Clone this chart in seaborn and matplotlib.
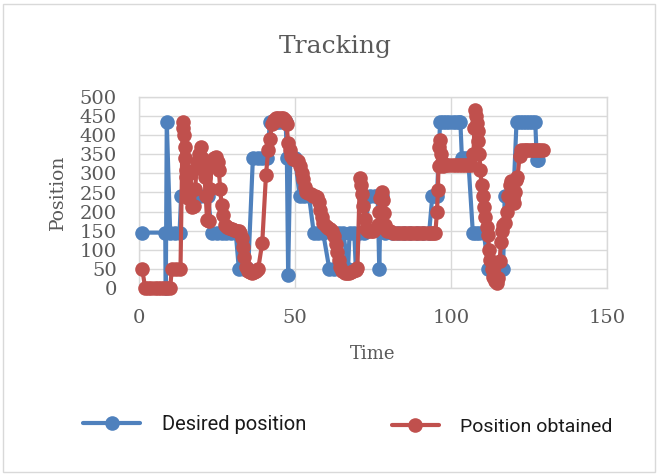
import numpy as np
import pandas as pd
import matplotlib
matplotlib.use("Agg")
import matplotlib.pyplot as plt
from matplotlib.patches import Rectangle
import seaborn as sns

# ---- data -----------------------------------------------------------------
time_desired = [1, 8.4, 8.6, 8.9, 10, 11.5, 13, 13.5, 15, 16.5, 18, 19.5, 21, 22,
                23.5, 25, 26.5, 28, 29.5, 31, 32, 33.5, 35, 36.5, 38, 39.5, 41,
                42, 43, 44, 45, 46, 47, 47.4, 47.8, 48.5, 50, 51.5, 53, 54.5,
                56, 57.5, 59, 61, 62.5, 64, 65.5, 67, 67.5, 69, 69.5, 70.5, 72,
                74, 75.5, 76.5, 77, 77.5, 78, 79, 81, 83, 85, 87, 89, 91, 93,
                94, 95, 95.5, 96.5, 97.5, 98.5, 99.5, 100.5, 101.5, 102.5, 103,
                103.5, 104.5, 105.5, 107, 108, 109, 110.5, 112, 113.5, 115,
                116.7, 117.2, 118.5, 120, 121, 122, 123, 124, 125, 126, 127,
                127.5, 128]
desired = [145, 145, 0, 435, 145, 145, 145, 240, 240, 240, 240, 240, 240, 240,
           145, 145, 145, 145, 145, 145, 50, 50, 50, 340, 340, 340, 340,
           435, 435, 435, 435, 435, 435, 340, 35, 340, 340, 240, 240, 240,
           145, 145, 145, 50, 50, 145, 145, 50, 145, 145, 50, 145, 145,
           240, 240, 240, 50, 240, 240, 145, 145, 145, 145, 145, 145, 145, 145,
           240, 240, 240, 435, 435, 435, 435, 435, 435, 435, 435,
           340, 340, 340, 145, 145, 145, 145, 50, 50, 50,
           50, 240, 240, 240, 435, 435, 435, 435, 435, 435, 435,
           335, 335]

time_obtained = [1, 2, 3, 4, 5, 6, 7, 8, 9, 10, 10.5, 12, 13.3,
                 14, 14.2, 14.4, 14.6, 14.8, 15, 15.2, 15.4, 15.6, 16, 16.5,
                 17, 17.5, 18, 18.6, 19.2, 19.8, 20.2, 20.6, 21, 21.4, 21.8,
                 22.3, 22.8, 23.3, 24, 24.6, 25.2, 25.6, 26, 26.5, 27, 27.6,
                 28.3, 29, 29.8, 30.5, 31.3, 32, 32.5, 33, 33.4, 33.8, 34.2,
                 34.8, 35.5, 36.3, 37, 37.6, 38.2, 39.5, 40.7, 41.4, 42, 42.6,
                 43.2, 43.8, 44.4, 45, 45.6, 46.2, 46.8, 47.3, 47.8, 48.3,
                 48.8, 49.5, 50.3, 51, 51.6, 52.1, 52.6, 53.1, 53.6, 54.3, 55,
                 55.7, 56.4, 57, 57.6, 58.1, 58.6, 59.1, 59.8, 60.5, 61.2,
                 61.9, 62.5, 63, 63.5, 64, 64.5, 65.2, 65.9, 66.6, 67.3, 68,
                 68.7, 69.4, 70, 70.8, 71.1, 71.4, 71.8, 72.3, 72.8, 73.5,
                 74.3, 75, 75.8, 76.5, 77, 77.4, 77.8, 78.2, 78.6, 79, 79.6,
                 80.5, 81.5, 82.5, 83.5, 84.5, 85.5, 86.5, 87.5, 88.5, 89.5,
                 90.5, 91.5, 92.5, 93.5, 94.3, 95, 95.5, 95.8, 96, 96.2, 96.4,
                 96.7, 97, 97.5, 98.5, 99.5, 100.5, 101.5, 102.5, 103.5, 104.5,
                 105.5, 106.5, 107.2, 107.5, 107.7, 107.9, 108.2, 108.5, 108.8,
                 109.1, 109.4, 109.8, 110.2, 110.5, 111, 111.4, 111.8, 112.2,
                 112.5, 113, 113.6, 114.2, 114.7, 115.2, 115.6, 116, 116.4,
                 116.8, 117.3, 117.8, 118.3, 118.8, 119.2, 119.5, 119.8, 120.1,
                 120.5, 120.8, 121.3, 122, 122.5, 123.3, 124, 124.7, 125.5,
                 126.2, 127, 127.8, 128.6, 129.4]
obtained = [50, 0, 0, 0, 0, 0, 0, 0, 0, 0, 50, 50, 50,
            435, 420, 400, 370, 340, 310, 290, 260, 235, 250, 300,
            212, 215, 260, 330, 350, 370, 340, 310, 290, 240, 178,
            175, 260, 330, 340, 343, 330, 310, 260, 217, 190, 165,
            160, 158, 155, 152, 150, 150, 145, 130, 107, 80, 55,
            45, 42, 40, 42, 45, 50, 118, 296, 360, 390, 430,
            440, 445, 445, 440, 445, 445, 440, 430, 380, 360,
            345, 338, 335, 332, 320, 300, 285, 265, 250, 248, 245,
            242, 240, 238, 225, 205, 185, 170, 162, 158, 155,
            150, 135, 115, 95, 73, 55, 45, 40, 40, 40, 42,
            45, 48, 52, 288, 270, 245, 215, 180, 155, 148,
            148, 150, 155, 165, 200, 235, 250, 230, 196, 165, 150,
            148, 145, 145, 145, 145, 145, 145, 145, 145, 145,
            145, 145, 145, 145, 145, 145, 200, 257, 320, 370, 387,
            350, 330, 320, 322, 322, 322, 322, 322, 322, 322,
            322, 322, 350, 420, 466, 450, 432, 410, 385,
            350, 310, 270, 240, 212, 185, 160, 140, 100,
            73, 50, 30, 18, 13, 25, 70, 120, 150,
            165, 170, 200, 240, 270, 280, 260, 235, 222,
            250, 283, 290, 345, 360, 362, 360, 362, 360,
            362, 360, 362, 360, 360]

x_ticks = [0, 50, 100, 150]
y_ticks = [0, 50, 100, 150, 200, 250, 300, 350, 400, 450, 500]

BLUE = "#4F81BD"
RED = "#C0504D"
TEXT = "#595959"
GRID = "#D9D9D9"

df_desired = pd.DataFrame({"Time": time_desired, "Position": desired})
df_obtained = pd.DataFrame({"Time": time_obtained, "Position": obtained})

# ---- figure ---------------------------------------------------------------
sns.set_theme(style="white")
plt.rcParams["font.family"] = ["DejaVu Serif"]

W, H = 659, 475
fig = plt.figure(figsize=(W / 100, H / 100), dpi=100)
ax = fig.add_axes([139 / W, (H - 288) / H, (607 - 139) / W, (288 - 97) / H])

line_kw = dict(sort=False, estimator=None, marker="o", markersize=10.5,
               markeredgewidth=0, linewidth=3.0, clip_on=False, ax=ax)
sns.lineplot(data=df_desired, x="Time", y="Position", color=BLUE,
             label="Desired position", zorder=3, **line_kw)
sns.lineplot(data=df_obtained, x="Time", y="Position", color=RED,
             label="Position obtained", zorder=4, **line_kw)

ax.set_xlim(0, 150)
ax.set_ylim(0, 500)
ax.set_xticks(x_ticks)
ax.set_yticks(y_ticks)
ax.tick_params(axis="both", length=0, labelsize=14, labelcolor=TEXT)
ax.tick_params(axis="x", pad=15)
ax.tick_params(axis="y", pad=16)

ax.grid(True, color=GRID, linewidth=1)
ax.set_axisbelow(True)
for s in ax.spines.values():
    s.set_visible(True)
    s.set_color(GRID)
    s.set_linewidth(1)

ax.set_xlabel("Time", fontsize=13, color=TEXT)
ax.set_ylabel("Position", fontsize=13.5, color=TEXT)
ax.xaxis.set_label_coords(0.5, (288 - 354) / 191)
ax.yaxis.set_label_coords((58 - 139) / 468, 0.503)
ax.xaxis.label.set_verticalalignment("center")
ax.yaxis.label.set_verticalalignment("center")

fig.text(335 / W, 1 - 47 / H, "Tracking", ha="center", va="center",
         fontsize=18, color=TEXT)

# legend, two entries laid out along the bottom
handles, labels = ax.get_legend_handles_labels()
if ax.get_legend() is not None:
    ax.get_legend().remove()
legend_font = ["Roboto", "DejaVu Sans"]
leg1 = fig.legend([handles[0]], [labels[0]], loc="center left",
                  bbox_to_anchor=(83 / W, 1 - 425 / H), frameon=False,
                  borderpad=0, borderaxespad=0, handlelength=2.85,
                  handletextpad=1.05,
                  prop={"family": legend_font, "size": 14.5})
leg2 = fig.legend([handles[1]], [labels[1]], loc="center left",
                  bbox_to_anchor=(392 / W, 1 - 427 / H), frameon=False,
                  borderpad=0, borderaxespad=0, handlelength=2.4,
                  handletextpad=1.1,
                  prop={"family": legend_font, "size": 14})
for lg in (leg1, leg2):
    for t in lg.get_texts():
        t.set_color("#1a1a1a")

# chart-area border
fig.patches.append(Rectangle((3 / W, 3 / H), (W - 7) / W, (H - 7) / H,
                             transform=fig.transFigure, fill=False,
                             edgecolor=GRID, linewidth=1))

fig.savefig("out.png", dpi=100)
